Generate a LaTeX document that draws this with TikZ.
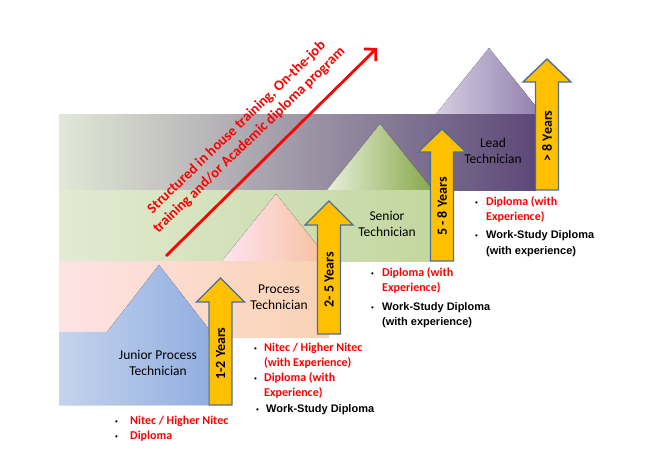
\documentclass[tikz,border=0pt]{standalone}
\usepackage{fontspec}
\setmainfont{Carlito}
\newfontfamily\arialf{Liberation Sans}
\usetikzlibrary{arrows.meta}
\definecolor{purL}{HTML}{E2E8D6}
\definecolor{purR}{HTML}{5C4878}
\definecolor{purTL}{HTML}{D6CFE2}
\definecolor{purTR}{HTML}{9482B0}
\definecolor{grnL}{HTML}{E2EAD3}
\definecolor{grnR}{HTML}{C3D79F}
\definecolor{grnTL}{HTML}{E8EFDB}
\definecolor{grnTR}{HTML}{86A84A}
\definecolor{pnkL}{HTML}{FDE3E5}
\definecolor{pnkR}{HTML}{FAD2B3}
\definecolor{pnkTL}{HTML}{FCE4F2}
\definecolor{pnkTR}{HTML}{F8BF9C}
\definecolor{bluL}{HTML}{C5D3ED}
\definecolor{bluR}{HTML}{92AFE0}
\definecolor{yelc}{HTML}{FFC000}
\definecolor{arrb}{HTML}{4A6F9A}
\definecolor{redc}{HTML}{FF0000}
\tikzset{
  yarr/.style={fill=yelc, draw=arrb, line width=1.4pt, line join=miter},
  yarrtext/.style={rotate=90, font=\fontsize{14}{16}\selectfont\bfseries, text=black, inner sep=0pt},
  bandlbl/.style={font=\fontsize{13.5}{16}\selectfont, text=black, align=center, inner sep=0pt},
  redit/.style={anchor=base west, inner sep=0pt, text=redc, font=\fontsize{12}{14}\selectfont\bfseries},
  blkit/.style={anchor=base west, inner sep=0pt, text=black, font=\arialf\fontsize{11}{13}\selectfont\bfseries},
  bul/.style={anchor=base west, inner sep=0pt, text=black, font=\arialf\fontsize{8}{10}\selectfont}
}
\newcommand\yarrow[6]{%
  \draw[yarr] (#2-11.5,#5) -- (#2-11.5,#4) -- (#2-24,#4) -- (#2,#3) -- (#2+24,#4) -- (#2+11.5,#4) -- (#2+11.5,#5) -- cycle;
  \node[yarrtext] (#1) at (#2,{(#4+#5)/2}) {#6};}
\begin{document}
\begin{tikzpicture}[x=1pt,y=-1pt]
\useasboundingbox (0,0) rectangle (649,475);
% purple (lead)
\fill[left color=purTL, right color=purTR] (436,114) -- (489,48) -- (536,106.5) -- (536,114) -- cycle;
\fill[left color=purL, right color=purR] (59,114) rectangle (536,190);
% green (senior)
\fill[left color=grnTL, right color=grnTR] (327,190) -- (380,124) -- (431,187.5) -- (431,190) -- cycle;
\fill[left color=grnL, right color=grnR] (59,190) rectangle (431,261);
% pink (process)
\fill[left color=pnkTL, right color=pnkTR] (222,261) -- (276,194) -- (329,260) -- (329,261) -- cycle;
\fill[left color=pnkL, right color=pnkR] (59,261) rectangle (329,337);
% blue (junior)
\fill[left color=bluL, right color=bluR] (59,405) -- (59,332) -- (107,332) -- (159,265) -- (208,328) -- (208,405) -- cycle;
% red diagonal arrow
\coordinate (rs) at (166,256);
\coordinate (re) at (377,48);
\draw[redc, line width=2.8pt, -{Straight Barb[length=8pt,width=17pt,line width=2.8pt]}] (rs) -- (re);
\node[rotate=44, align=center, text=redc, inner sep=0pt,
      font=\fontsize{14.5}{18}\selectfont\bfseries] (rtext) at (243,134)
  {Structured in house training, On-the-job\\training and/or Academic diploma program};
% labels
\node[bandlbl] (lead) at (493,151) {Lead\\Technician};
\node[bandlbl] (senior) at (387,224) {Senior\\Technician};
\node[bandlbl] (process) at (279,297) {Process\\Technician};
\node[bandlbl] (junior) at (158,363) {Junior Process\\Technician};
% yellow arrows
\yarrow{a1}{220.5}{278}{302}{405}{1-2 Years}
\yarrow{a2}{329}{201}{225}{334}{2- 5 Years}
\yarrow{a3}{442}{129}{152}{261}{5 - 8 Years}
\yarrow{a4}{547}{59}{82}{190}{> 8 Years}
% list 1
\node[bul] (b1a) at (115,424) {•};
\node[redit] (t1a) at (130,424) {Nitec / Higher Nitec};
\node[bul] (b1b) at (115,439) {•};
\node[redit] (t1b) at (130,439) {Diploma};
% list 2
\node[bul] (b2a) at (254,351) {•};
\node[redit] (t2a) at (264,351) {Nitec / Higher Nitec};
\node[redit] (t2b) at (264,366) {(with Experience)};
\node[bul] (b2c) at (254,381) {•};
\node[redit] (t2c) at (264,381) {Diploma (with};
\node[redit] (t2d) at (264,396) {Experience)};
\node[bul] (b2e) at (256,412) {•};
\node[blkit] (t2e) at (266,412) {Work-Study Diploma};
% list 3
\node[bul] (b3a) at (371,276) {•};
\node[redit] (t3a) at (382,276) {Diploma (with};
\node[redit] (t3b) at (382,291) {Experience)};
\node[bul] (b3c) at (371,310) {•};
\node[blkit] (t3c) at (382,310) {Work-Study Diploma};
\node[blkit] (t3d) at (382,325) {(with experience)};
% list 4
\node[bul] (b4a) at (475,205) {•};
\node[redit] (t4a) at (486,205) {Diploma (with};
\node[redit] (t4b) at (486,220) {Experience)};
\node[bul] (b4c) at (475,238) {•};
\node[blkit] (t4c) at (486,238) {Work-Study Diploma};
\node[blkit] (t4d) at (486,254) {(with experience)};
\end{tikzpicture}
\end{document}
